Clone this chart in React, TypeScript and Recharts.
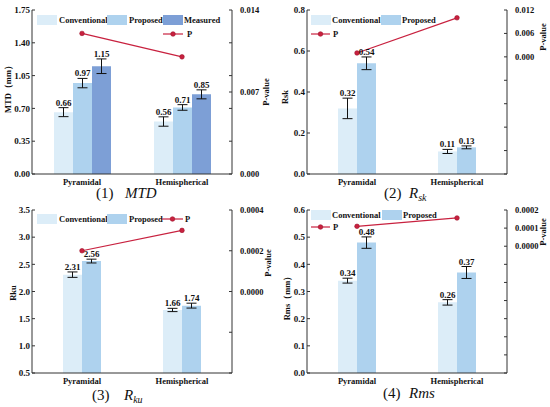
import React from 'react';
import { ComposedChart, Bar, Line, XAxis, YAxis, ErrorBar, LabelList, Legend } from 'recharts';

const categories = ['Pyramidal', 'Hemispherical'];

// (1) MTD
const mtdConventional = [0.66, 0.56];
const mtdConventionalErr = [0.048, 0.05];
const mtdProposed = [0.97, 0.71];
const mtdProposedErr = [0.05, 0.03];
const mtdMeasured = [1.15, 0.85];
const mtdMeasuredErr = [0.078, 0.048];
const mtdP = [0.012, 0.01];
const mtdLeftTicks = [0, 0.35, 0.7, 1.05, 1.4, 1.75];
const mtdRightTicks = [0, 0.0028, 0.0056, 0.007, 0.0084, 0.0112, 0.014];
const mtdRightLabels = [0, 0.007, 0.014];

// (2) Rsk
const rskConventional = [0.32, 0.11];
const rskConventionalErr = [0.05, 0.01];
const rskProposed = [0.54, 0.13];
const rskProposedErr = [0.031, 0.007];
const rskP = [0.001, 0.01];
const rskLeftTicks = [0, 0.2, 0.4, 0.6, 0.8];
const rskRightTicks = [-0.03, -0.024, -0.018, -0.012, -0.006, 0, 0.006, 0.012];
const rskRightLabels = [0, 0.006, 0.012];

// (3) Rku
const rkuConventional = [2.31, 1.66];
const rkuConventionalErr = [0.05, 0.03];
const rkuProposed = [2.56, 1.74];
const rkuProposedErr = [0.035, 0.045];
const rkuP = [0.0002, 0.0003];
const rkuLeftTicks = [0.5, 1.0, 1.5, 2.0, 2.5, 3.0, 3.5];
const rkuRightTicks = [-0.0004, -0.0002, 0, 0.0002, 0.0004];
const rkuRightLabels = [0, 0.0002, 0.0004];

// (4) Rms
const rmsConventional = [0.34, 0.26];
const rmsConventionalErr = [0.009, 0.01];
const rmsProposed = [0.48, 0.37];
const rmsProposedErr = [0.021, 0.022];
const rmsP = [0.00011, 0.000156];
const rmsLeftTicks = [0, 0.1, 0.2, 0.3, 0.4, 0.5, 0.6];
const rmsRightTicks = [-0.0007, -0.0006, -0.0005, -0.0004, -0.0003, -0.0002, -0.0001, 0, 0.0001, 0.0002];
const rmsRightLabels = [0, 0.0001, 0.0002];

const FONT = '"Liberation Serif", "Times New Roman", serif';
const C_CONV = '#dcedf8';
const C_PROP = '#aed2ee';
const C_MEAS = '#7d9fd6';
const C_P = '#c8213f';
const AXIS = '#333333';

type Series = { key: string; name: string; color: string; values: number[]; errs: number[] };

type PanelProps = {
  left: number;
  top: number;
  height: number;
  series: Series[];
  pValues: number[];
  leftDomain: [number, number];
  leftTicks: number[];
  leftDecimals: number;
  rightDomain: [number, number];
  rightTicks: number[];
  rightLabels: number[];
  rightDecimals: number;
  leftTitle: string;
  leftTitlePos: [number, number];
  rightTitlePos: [number, number];
  legendRow: { y: number; items: [number, number][] };
  pLegend: { x1: number; x2: number; y: number; tx: number };
  caption: { num: string; numX: number; main: string; sub?: string; mainX: number; y: number };
};

const makeLabel = (errs: number[], min: number) => (props: any) => {
  const { x, y, width, height, value, index } = props;
  const v = Number(value);
  const pxPerUnit = Number(height) / (v - min);
  const ty = Number(y) - errs[index] * pxPerUnit - 2;
  return (
    <text x={Number(x) + Number(width) / 2} y={ty} textAnchor="middle" fontSize={9} fontWeight="bold" fontFamily={FONT} fill="#111">
      {v.toFixed(2)}
    </text>
  );
};

function Panel(p: PanelProps) {
  const W = 275;
  const data = categories.map((c, i) => {
    const row: any = { cat: c, p: p.pValues[i] };
    p.series.forEach((s) => {
      row[s.key] = s.values[i];
      row[s.key + 'Err'] = s.errs[i];
    });
    return row;
  });

  const isLabel = (v: number) => p.rightLabels.some((l) => Math.abs(l - v) < 1e-9);

  const overlay = () => (
    <svg width={W} height={p.height} style={{ overflow: 'visible' }}>
      {p.series.map((s, i) => {
        const [sx, tx] = p.legendRow.items[i];
        return (
          <g key={s.key}>
            <rect x={sx} y={p.legendRow.y - 5} width={20} height={10} fill={s.color} />
            <text x={tx} y={p.legendRow.y + 3} fontSize={8.5} fontWeight="bold" fontFamily={FONT} fill="#111">
              {s.name}
            </text>
          </g>
        );
      })}
      <line x1={p.pLegend.x1} x2={p.pLegend.x2} y1={p.pLegend.y} y2={p.pLegend.y} stroke={C_P} strokeWidth={1.2} />
      <circle cx={(p.pLegend.x1 + p.pLegend.x2) / 2} cy={p.pLegend.y} r={2.3} fill={C_P} stroke="#a0102a" strokeWidth={0.6} />
      <text x={p.pLegend.tx} y={p.pLegend.y + 3} fontSize={8.5} fontWeight="bold" fontFamily={FONT} fill="#111">
        P
      </text>
      <text
        x={p.leftTitlePos[0]}
        y={p.leftTitlePos[1]}
        transform={`rotate(-90 ${p.leftTitlePos[0]} ${p.leftTitlePos[1]})`}
        textAnchor="middle"
        dominantBaseline="central"
        fontSize={8.5}
        fontWeight="bold"
        fontFamily={FONT}
        fill="#111"
      >
        {p.leftTitle}
      </text>
      <text
        x={p.rightTitlePos[0]}
        y={p.rightTitlePos[1]}
        transform={`rotate(-90 ${p.rightTitlePos[0]} ${p.rightTitlePos[1]})`}
        textAnchor="middle"
        dominantBaseline="central"
        fontSize={8.5}
        fontWeight="bold"
        fontFamily={FONT}
        fill="#111"
      >
        P-value
      </text>
      <text x={p.caption.numX} y={p.caption.y} fontSize={15} fontFamily={FONT} fill="#111">
        {p.caption.num}
      </text>
      <text x={p.caption.mainX} y={p.caption.y} fontSize={15} fontStyle="italic" fontFamily={FONT} fill="#111">
        {p.caption.main}
        {p.caption.sub ? (
          <tspan fontSize={10} dy={3}>
            {p.caption.sub}
          </tspan>
        ) : null}
      </text>
    </svg>
  );

  const tickStyle = { fontSize: 9, fontWeight: 'bold', fontFamily: FONT, fill: '#111' } as any;

  return (
    <div style={{ position: 'absolute', left: p.left, top: p.top, width: W, height: p.height }}>
      <ComposedChart width={W} height={p.height} data={data} margin={{ top: 10, right: 0, bottom: 0, left: 0 }} barGap={0}>
        <XAxis
          dataKey="cat"
          height={p.height === 200 ? 26 : 34}
          tickLine={false}
          tickSize={0}
          tickMargin={5}
          axisLine={{ stroke: AXIS }}
          tick={{ ...tickStyle, fontSize: 8.5 }}
          interval={0}
        />
        <XAxis xAxisId="top" dataKey="cat" orientation="top" height={0} tick={false} tickLine={false} axisLine={{ stroke: AXIS }} />
        <YAxis
          yAxisId="left"
          width={32}
          domain={p.leftDomain}
          ticks={p.leftTicks}
          interval={0}
          tickSize={-3}
          tickMargin={5}
          axisLine={{ stroke: AXIS }}
          tickLine={{ stroke: AXIS }}
          tick={tickStyle}
          tickFormatter={(v: number) => v.toFixed(p.leftDecimals)}
          allowDataOverflow
        />
        <YAxis
          yAxisId="right"
          orientation="right"
          width={43}
          domain={p.rightDomain}
          ticks={p.rightTicks}
          interval={0}
          tickSize={-3}
          tickMargin={11}
          axisLine={{ stroke: AXIS }}
          tickLine={{ stroke: AXIS }}
          tick={{ ...tickStyle, fontSize: 8.5, textAnchor: 'start' }}
          tickFormatter={(v: number) => (isLabel(v) ? v.toFixed(p.rightDecimals) : '')}
          allowDataOverflow
        />
        {p.series.map((s) => (
          <Bar key={s.key} yAxisId="left" dataKey={s.key} name={s.name} fill={s.color} barSize={19} isAnimationActive={false}>
            <ErrorBar dataKey={s.key + 'Err'} width={5} stroke="#111" strokeWidth={1} direction="y" />
            <LabelList dataKey={s.key} content={makeLabel(s.errs, p.leftDomain[0])} />
          </Bar>
        ))}
        <Line
          yAxisId="right"
          dataKey="p"
          name="P"
          stroke={C_P}
          strokeWidth={1.2}
          dot={{ r: 2.3, fill: C_P, stroke: '#a0102a', strokeWidth: 0.6 }}
          isAnimationActive={false}
        />
        <Legend
          layout="vertical"
          align="center"
          verticalAlign="middle"
          content={overlay}
          wrapperStyle={{ position: 'absolute', left: 0, top: 0, width: W, height: p.height, pointerEvents: 'none' }}
        />
      </ComposedChart>
    </div>
  );
}

export default function App() {
  return (
    <div style={{ position: 'absolute', left: 0, top: 0, width: 550, height: 407, background: '#fff' }}>
      <Panel
        left={0}
        top={0}
        height={200}
        series={[
          { key: 'conv', name: 'Conventional', color: C_CONV, values: mtdConventional, errs: mtdConventionalErr },
          { key: 'prop', name: 'Proposed', color: C_PROP, values: mtdProposed, errs: mtdProposedErr },
          { key: 'meas', name: 'Measured', color: C_MEAS, values: mtdMeasured, errs: mtdMeasuredErr },
        ]}
        pValues={mtdP}
        leftDomain={[0, 1.75]}
        leftTicks={mtdLeftTicks}
        leftDecimals={2}
        rightDomain={[0, 0.014]}
        rightTicks={mtdRightTicks}
        rightLabels={mtdRightLabels}
        rightDecimals={3}
        leftTitle="MTD（mm）"
        leftTitlePos={[8, 87]}
        rightTitlePos={[266, 92]}
        legendRow={{ y: 20, items: [[37, 59], [107, 129], [163, 184]] }}
        pLegend={{ x1: 163, x2: 183, y: 34, tx: 187 }}
        caption={{ num: '(1)', numX: 96, main: 'MTD', mainX: 125, y: 198 }}
      />
      <Panel
        left={275}
        top={0}
        height={200}
        series={[
          { key: 'conv', name: 'Conventional', color: C_CONV, values: rskConventional, errs: rskConventionalErr },
          { key: 'prop', name: 'Proposed', color: C_PROP, values: rskProposed, errs: rskProposedErr },
        ]}
        pValues={rskP}
        leftDomain={[0, 0.8]}
        leftTicks={rskLeftTicks}
        leftDecimals={1}
        rightDomain={[-0.03, 0.012]}
        rightTicks={rskRightTicks}
        rightLabels={rskRightLabels}
        rightDecimals={3}
        leftTitle="Rsk"
        leftTitlePos={[10, 97]}
        rightTitlePos={[268, 37]}
        legendRow={{ y: 20, items: [[36, 57], [106, 127]] }}
        pLegend={{ x1: 36, x2: 55, y: 34, tx: 58 }}
        caption={{ num: '(2)', numX: 109, main: 'R', sub: 'sk', mainX: 134, y: 198 }}
      />
      <Panel
        left={0}
        top={200}
        height={207}
        series={[
          { key: 'conv', name: 'Conventional', color: C_CONV, values: rkuConventional, errs: rkuConventionalErr },
          { key: 'prop', name: 'Proposed', color: C_PROP, values: rkuProposed, errs: rkuProposedErr },
        ]}
        pValues={rkuP}
        leftDomain={[0.5, 3.5]}
        leftTicks={rkuLeftTicks}
        leftDecimals={1}
        rightDomain={[-0.0004, 0.0004]}
        rightTicks={rkuRightTicks}
        rightLabels={rkuRightLabels}
        rightDecimals={4}
        leftTitle="Rku"
        leftTitlePos={[13, 93]}
        rightTitlePos={[268, 63]}
        legendRow={{ y: 19, items: [[37, 59], [107, 129]] }}
        pLegend={{ x1: 162, x2: 183, y: 19, tx: 185 }}
        caption={{ num: '(3)', numX: 92, main: 'R', sub: 'ku', mainX: 124, y: 200 }}
      />
      <Panel
        left={275}
        top={200}
        height={207}
        series={[
          { key: 'conv', name: 'Conventional', color: C_CONV, values: rmsConventional, errs: rmsConventionalErr },
          { key: 'prop', name: 'Proposed', color: C_PROP, values: rmsProposed, errs: rmsProposedErr },
        ]}
        pValues={rmsP}
        leftDomain={[0, 0.6]}
        leftTicks={rmsLeftTicks}
        leftDecimals={1}
        rightDomain={[-0.0007, 0.0002]}
        rightTicks={rmsRightTicks}
        rightLabels={rmsRightLabels}
        rightDecimals={4}
        leftTitle="Rms（mm）"
        leftTitlePos={[12, 96]}
        rightTitlePos={[268, 32]}
        legendRow={{ y: 15, items: [[36, 57], [107, 128]] }}
        pLegend={{ x1: 36, x2: 55, y: 27, tx: 58 }}
        caption={{ num: '(4)', numX: 108, main: 'Rms', mainX: 134, y: 198 }}
      />
    </div>
  );
}
